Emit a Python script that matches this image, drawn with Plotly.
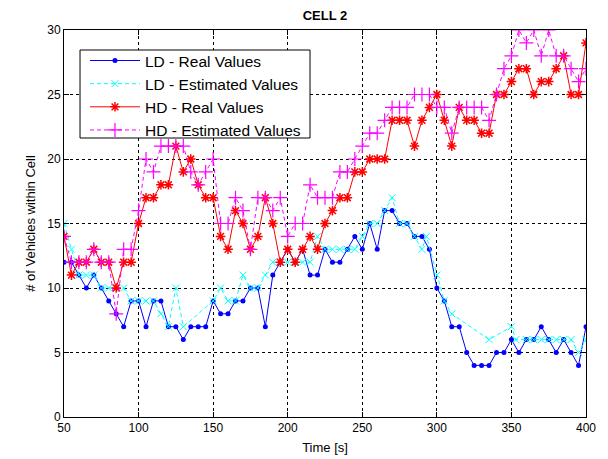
import plotly.graph_objects as go

# ---- data ----
t_real = list(range(50, 401, 5))
ld_real = [12, 12, 11, 10, 11, 10, 9, 8, 7, 9,
           9, 7, 9, 9, 7, 7, 6, 7, 7, 7,
           9, 8, 8, 9, 9, 10, 10, 7, 11, 12,
           13, 12, 13, 11, 11, 13, 12, 12, 13, 14,
           13, 15, 13, 16, 16, 15, 15, 14, 14, 13,
           10, 9, 7, 7, 5, 4, 4, 4, 5, 5,
           6, 5, 6, 6, 7, 6, 5, 6, 5, 4,
           7]
hd_real = [14, 11, 12, 12, 13, 12, 12, 10, 12, 12,
           15, 17, 17, 18, 18, 21, 19, 20, 18, 17,
           17, 14, 13, 16, 15, 13, 14, 17, 15, 12,
           13, 12, 13, 14, 13, 15, 16, 17, 17, 19,
           19, 20, 20, 20, 23, 23, 23, 21, 23, 24,
           25, 23, 21, 24, 23, 23, 22, 22, 25, 25,
           26, 27, 27, 25, 26, 26, 27, 28, 25, 25,
           29]

t_ld_est = [50, 55, 60, 65, 70, 75, 80, 85, 90, 95, 100, 105, 110, 115, 120, 125, 130,
            150, 155, 160, 165, 170, 175, 180, 185, 190, 195, 200, 205, 210, 215, 220,
            225, 230, 235, 240, 245, 250, 255, 260, 265, 270, 275, 280, 285, 290, 293,
            300, 305, 310, 335, 350, 353, 360, 365, 370, 375, 380, 385, 390, 395, 400]
ld_est = [15, 13, 11, 11, 11, 10, 10, 10, 10, 9, 9, 9, 9, 8, 7, 10, 7,
          9, 10, 9, 9, 11, 10, 10, 11, 12, 12, 12, 12, 12, 12, 14,
          13, 13, 13, 13, 13, 14, 15, 15, 16, 17, 15, 15, 14, 13, 14,
          11, 9, 8, 6, 7, 6, 6, 6, 6, 6, 6, 6, 6, 5, 6]

t_hd_est = list(range(50, 401, 5))
hd_est = [14, 12, 12, 12, 13, 12, 12, 8, 13, 13,
          16, 20, 19, 21, 21, 21, 21, 19, 18, 19,
          20, 15, 15, 17, 16, 13, 17, 17, 16, 17,
          14, 15, 15, 18, 17, 17, 17, 19, 19, 20,
          21, 22, 22, 23, 24, 24, 24, 25, 25, 25,
          24, 24, 22, 24, 24, 24, 24, 23, 25, 27,
          28, 30, 29, 30, 28, 30, 28, 28, 27, 26,
          27]

x_ticks = [50, 100, 150, 200, 250, 300, 350, 400]
y_ticks = [0, 5, 10, 15, 20, 25, 30]

FONT = "Arial, Liberation Sans, sans-serif"
W, H = 600, 451

fig = go.Figure()
fig.add_trace(go.Scatter(
    x=t_real, y=ld_real, name="LD - Real Values", mode="lines+markers",
    line=dict(color="#0000ff", width=1),
    marker=dict(symbol="circle", size=5, color="#0000ff")))
fig.add_trace(go.Scatter(
    x=t_ld_est, y=ld_est, name="LD - Estimated Values", mode="lines+markers",
    line=dict(color="#00ffff", width=1, dash="4px,3px"),
    marker=dict(symbol="x-thin-open", size=7, color="#00ffff",
                line=dict(width=1, color="#00ffff"))))
fig.add_trace(go.Scatter(
    x=t_real, y=hd_real, name="HD - Real Values", mode="lines+markers",
    line=dict(color="#ff0000", width=1),
    marker=dict(symbol="asterisk-open", size=8, color="#ff0000",
                line=dict(width=1.5, color="#ff0000"))))
fig.add_trace(go.Scatter(
    x=t_hd_est, y=hd_est, name="HD - Estimated Values", mode="lines+markers",
    line=dict(color="#ff00ff", width=1, dash="4px,3px"),
    marker=dict(symbol="cross-thin-open", size=10, color="#ff00ff",
                line=dict(width=1.2, color="#ff00ff"))))

axis_common = dict(
    showline=True, linecolor="black", linewidth=1, mirror="ticks",
    ticks="inside", ticklen=5, tickcolor="black",
    showgrid=True, gridcolor="black", gridwidth=1, griddash="3px,3px",
    zeroline=False, automargin=False,
    tickfont=dict(family=FONT, size=12, color="black"),
)

fig.update_xaxes(range=[50, 400], tickvals=x_ticks, ticktext=[str(v) for v in x_ticks],
                 title=dict(text="Time [s]", font=dict(family=FONT, size=13, color="black"), standoff=8),
                 **axis_common)
fig.update_yaxes(range=[0, 30], tickvals=y_ticks, ticktext=[str(v) for v in y_ticks],
                 title=dict(text="# of Vehicles within Cell", font=dict(family=FONT, size=13, color="black"), standoff=8),
                 **axis_common)

# legend frame (white box with black border), drawn over the data
fig.add_shape(type="rect", xref="paper", yref="paper",
              x0=0.0307, x1=0.4713, y0=0.7209, y1=0.9483,
              fillcolor="white", line=dict(color="black", width=1), layer="above")

fig.update_layout(
    width=W, height=H,
    margin=dict(l=56, r=22, t=22, b=42, autoexpand=False),
    paper_bgcolor="white", plot_bgcolor="white",
    title=dict(text="<b>CELL 2</b>", x=0.5, xref="paper", y=1 - 7.5 / H, yref="container",
               xanchor="center", yanchor="middle",
               font=dict(family=FONT, size=13, color="black")),
    legend=dict(x=0.0402, y=0.964, xanchor="left", yanchor="top",
                bgcolor="rgba(0,0,0,0)", borderwidth=0,
                font=dict(family=FONT, size=15.5, color="black"),
                tracegroupgap=0, itemwidth=50),
    showlegend=True,
)

fig.write_html("out.html")
